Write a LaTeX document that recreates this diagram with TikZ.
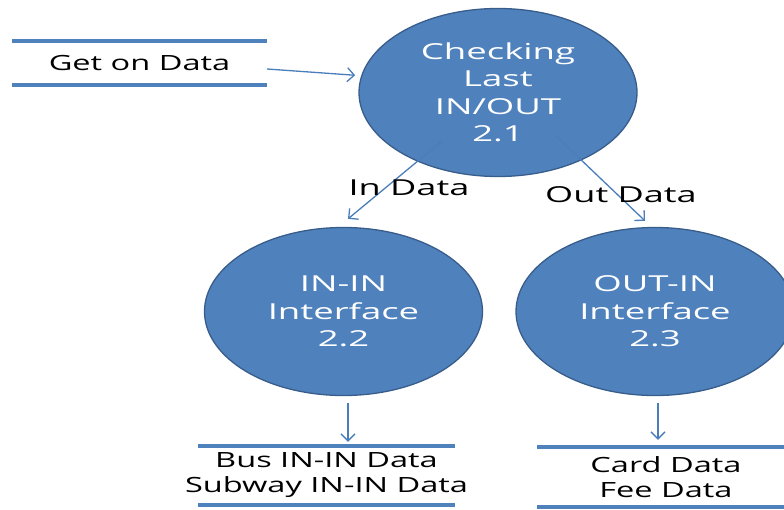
\documentclass[tikz,border=0pt]{standalone}
\usepackage{fontspec}
\setmainfont[FakeStretch=1.45]{Open Sans}
\newfontfamily\procfont[FakeStretch=1.66]{Open Sans}
\newfontfamily\lblfont[FakeStretch=1.64]{Open Sans}
\newfontfamily\storefont[FakeStretch=1.55]{Open Sans}
\usetikzlibrary{shapes.geometric,arrows.meta,calc}
\definecolor{procfill}{HTML}{4F81BD}
\definecolor{procdraw}{HTML}{385D8A}
\definecolor{storeline}{HTML}{4F81BD}
\definecolor{flowline}{HTML}{4A7EBB}
\tikzset{
  proc/.style={ellipse, fill=procfill, draw=procdraw, line width=1.3pt,
    minimum width=278pt, minimum height=168pt, inner sep=0pt,
    text=white, align=center, font=\procfont\fontsize{22}{27.5}\selectfont},
  store/.style={minimum height=44pt, inner sep=0pt, align=center,
    font=\storefont\fontsize{21}{25}\selectfont},
  storebar/.style={draw=storeline, line width=4pt},
  flow/.style={draw=flowline, line width=1.3pt, -{Straight Barb[length=7pt,width=14pt]}},
  lbl/.style={font=\lblfont\fontsize{22}{26}\selectfont, inner sep=0pt}
}
\begin{document}
\begin{tikzpicture}[x=1pt,y=-1pt]
\useasboundingbox (0,0) rectangle (784,509);
\clip (0,0) rectangle (784,509);
% processes
\node[proc] (p21) at (498,92.5) {Checking\\Last\\IN/OUT\\2.1};
\node[proc] (p22) at (343.5,311.5) {IN-IN\\Interface\\2.2};
\node[proc] (p23) at (655,311.5) {OUT-IN\\Interface\\2.3};
% stores
\node[store] (s1) at (139.5,63) {Get on Data};
\node[store, minimum height=59pt] (s2) at (326.5,475.5) {Bus IN-IN Data\\Subway IN-IN Data};
\node[store, minimum height=60pt] (s3) at (666,477) {Card Data\\Fee Data};
\foreach \s/\w in {s1/127.5, s2/128.5, s3/129}{
  \draw[storebar] ([xshift=-\w pt]\s.north) -- ([xshift=\w pt]\s.north);
  \draw[storebar] ([xshift=-\w pt]\s.south) -- ([xshift=\w pt]\s.south);
}
% flows
\draw[flow, shorten >=6pt] ([shift={(127.5,6)}]s1.center) -- (p21.173.5);
\coordinate (inA) at ([shift={(-56,48.5)}]p21.center);
\coordinate (inB) at ([shift={(4.5,-8)}]p22.north);
\draw[flow] (inA) -- (inB);
\coordinate (outA) at ([shift={(57,42.5)}]p21.center);
\coordinate (outB) at ([shift={(-10,-6)}]p23.north);
\draw[flow] (outA) -- (outB);
\coordinate (d22) at ([shift={(4.5,7)}]p22.south);
\draw[flow, shorten >=4pt] (d22) -- (d22 |- s2.north);
\coordinate (d23) at ([shift={(3,7)}]p23.south);
\draw[flow, shorten >=7pt] (d23) -- (d23 |- s3.north);
% labels
\node[lbl] (lin) at (409,188) {In Data};
\node[lbl] (lout) at (621,195) {Out Data};
\end{tikzpicture}
\end{document}
